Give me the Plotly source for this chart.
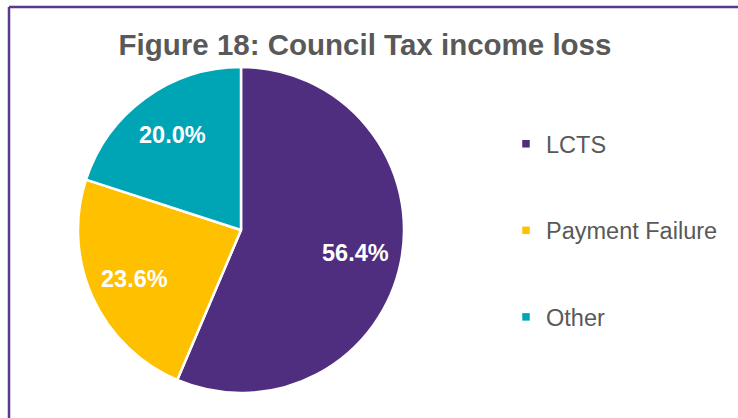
import math
import plotly.graph_objects as go

# Council Tax income loss breakdown (%)
categories = ["LCTS", "Payment Failure", "Other"]
shares = [56.4, 23.6, 20.0]
colors = ["#4F2D7F", "#FFC000", "#00A5B5"]

W, H = 738, 418
FONT = "Liberation Sans, Arial, sans-serif"
GREY = "#595959"

# pie placement in pixels
CX, CY, R = 241, 230, 163
LABEL_R = 0.72

fig = go.Figure()

fig.add_trace(go.Pie(
    labels=categories,
    values=shares,
    sort=False,
    direction="clockwise",
    rotation=0,
    marker=dict(colors=colors, line=dict(color="white", width=2.5)),
    textinfo="none",
    showlegend=False,
    hoverinfo="label+value",
    domain=dict(x=[(CX - R) / W, (CX + R) / W], y=[1 - (CY + R) / H, 1 - (CY - R) / H]),
))

# Percentage labels at each slice's mid-angle (clockwise from 12 o'clock)
total = sum(shares)
cum = 0.0
annotations = []
for v in shares:
    mid = (cum + v / 2) / total * 2 * math.pi
    cum += v
    px = CX + LABEL_R * R * math.sin(mid)
    py = CY - LABEL_R * R * math.cos(mid)
    annotations.append(dict(
        x=px / W, y=1 - py / H, xref="paper", yref="paper",
        text=f"<b>{v:.1f}%</b>", showarrow=False,
        xanchor="center", yanchor="middle",
        font=dict(family=FONT, size=23.5, color="white"),
    ))

# Legend entries as marker-only traces, one group each so they can be spaced out
for name, col in zip(categories, colors):
    fig.add_trace(go.Scatter(
        x=[None], y=[None], mode="markers", name=name, legendgroup=name,
        marker=dict(symbol="square", size=7.5, color=col),
    ))

fig.update_layout(
    width=W, height=H,
    margin=dict(l=0, r=0, t=0, b=0),
    paper_bgcolor="white",
    plot_bgcolor="white",
    xaxis=dict(visible=False),
    yaxis=dict(visible=False),
    title=dict(
        text="<b>Figure 18: Council Tax income loss</b>",
        font=dict(family=FONT, size=29.5, color=GREY),
        x=365 / W, xanchor="center",
        y=1 - 45 / H, yanchor="middle",
    ),
    legend=dict(
        x=506 / W, xanchor="left",
        y=1 - 122 / H, yanchor="top",
        font=dict(family=FONT, size=23.5, color=GREY),
        tracegroupgap=53,
        bgcolor="rgba(0,0,0,0)",
        itemsizing="trace",
    ),
    annotations=annotations,
    shapes=[
        dict(type="line", xref="paper", yref="paper",
             x0=9 / W, x1=1, y0=1 - 7 / H, y1=1 - 7 / H,
             line=dict(color="#5B3A8E", width=2.5)),
        dict(type="line", xref="paper", yref="paper",
             x0=9 / W, x1=9 / W, y0=0, y1=1 - 7 / H,
             line=dict(color="#5B3A8E", width=2.5)),
    ],
)

fig.write_html("out.html")
